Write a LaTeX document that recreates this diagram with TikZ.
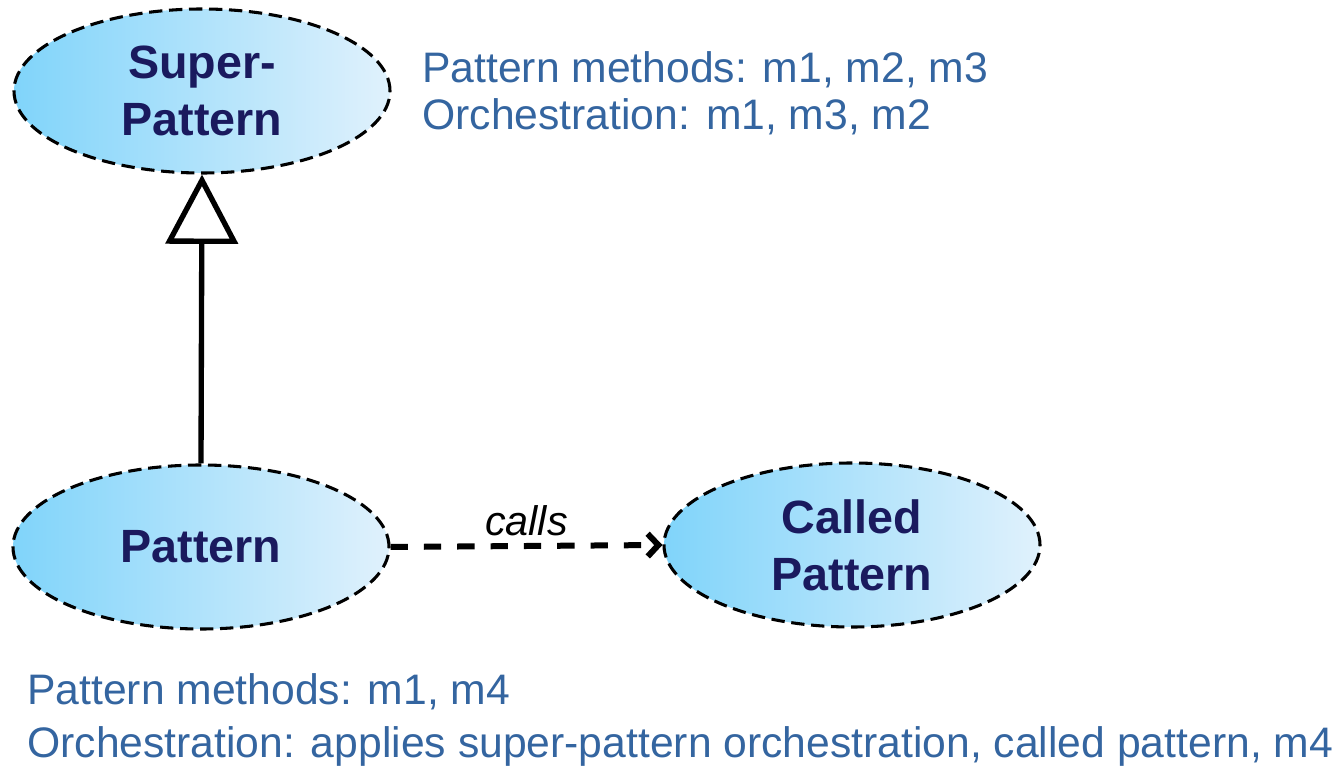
\documentclass[tikz,border=0pt]{standalone}
\usepackage{fontspec}
\setmainfont{Liberation Sans}
\usetikzlibrary{shapes.geometric,arrows.meta}
\definecolor{fillL}{RGB}{128,212,250}
\definecolor{fillR}{RGB}{224,241,252}
\definecolor{labelnavy}{RGB}{26,26,94}
\definecolor{notecol}{RGB}{52,101,160}
\tikzset{
  patternnode/.style={ellipse, draw=black, line width=2.3pt,
    dash pattern=on 10pt off 5pt, left color=fillL, right color=fillR,
    minimum width=282pt, minimum height=123pt, inner sep=0pt,
    align=center, text=labelnavy,
    font=\fontsize{35}{43}\selectfont\bfseries},
  note/.style={anchor=base west, inner sep=0pt, text=notecol,
    font=\fontsize{32}{40}\selectfont},
  inherit/.style={line width=4pt, -{Triangle[open, length=52pt, width=54pt]}},
  callsarrow/.style={line width=4.5pt, dash pattern=on 13pt off 12pt,
    -{Straight Barb[length=8pt, width=17pt]}},
}
\begin{document}
\begin{tikzpicture}[x=0.75pt, y=-0.75pt]
  \useasboundingbox (0,0) rectangle (1340,766);

  % pattern nodes
  \node[patternnode] (super)  at (202,91)  {Super-\\Pattern};
  \node[patternnode] (pat)    at (201,547) {Pattern};
  \node[patternnode] (called) at (852,545) {Called\\Pattern};

  % relations
  \draw[inherit] (pat.north) -- (super.south);
  \draw[callsarrow] (pat.east) -- (called.west)
    node[midway, above=5pt, inner sep=0pt,
         font=\fontsize{31}{37}\selectfont\itshape] (callslbl) {calls};

  % method notes
  \node[note] (n1) at (422,83)  {Pattern methods: m1, m2, m3};
  \node[note] (n2) at (422,130) {Orchestration: m1, m3, m2};
  \node[note] (n3) at (27,705)  {Pattern methods: m1, m4};
  \node[note] (n4) at (27,757)  {Orchestration: applies super-pattern orchestration, called pattern, m4};
\end{tikzpicture}
\end{document}
